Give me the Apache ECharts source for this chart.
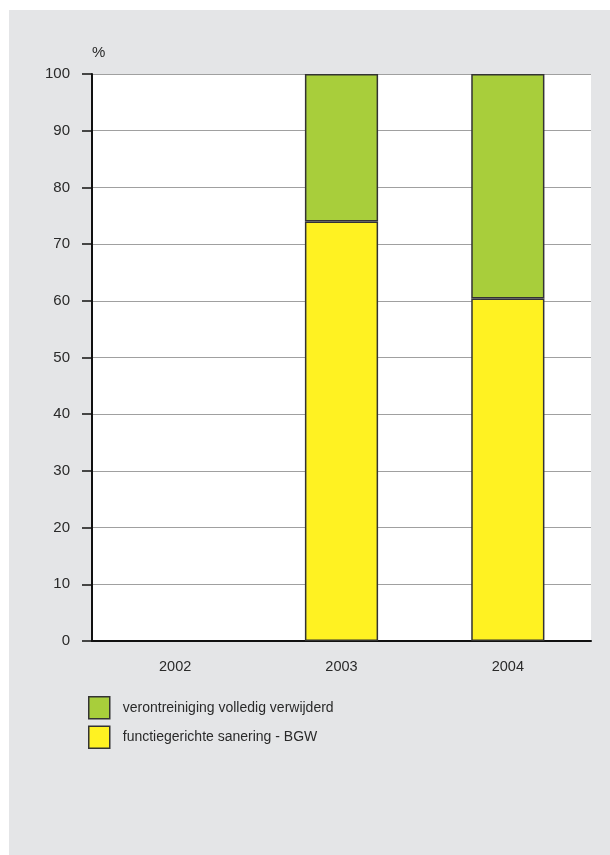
<!DOCTYPE html>
<html>
<head>
<meta charset="utf-8">
<script src="https://cdn.jsdelivr.net/npm/echarts@6/dist/echarts.min.js"></script>
<style>
  html, body { margin: 0; padding: 0; background: #fff; }
  #wrap { position: relative; width: 610px; height: 855px; background: #fff; }
  #panel { position: absolute; left: 9px; top: 10px; width: 601px; height: 845px; background: #e4e5e7; }
  #myChart { width: 100%; height: 100%; }
</style>
</head>
<body>
<div id="wrap"><div id="panel"><div id="myChart"></div></div></div>
<script>
// jaren en aandelen (%)
const years = ['2002', '2003', '2004'];
const bgwShare = [null, 74, 60.4];        // functiegerichte sanering - BGW
const removedShare = [null, 26, 39.6];    // verontreiniging volledig verwijderd
const yTicks = { min: 0, max: 100, interval: 10 };

const font = '"Liberation Sans", Arial, sans-serif';
const chart = echarts.init(document.getElementById('myChart'));

const option = {
  animation: false,
  textStyle: { fontFamily: font },
  grid: {
    left: 83,
    top: 64,
    width: 499,
    height: 567,
    show: true,
    backgroundColor: '#fff',
    borderWidth: 0,
  },
  legend: {
    orient: 'vertical',
    left: 79,
    top: 686,
    padding: 0,
    itemWidth: 21,
    itemHeight: 22,
    itemGap: 6,
    icon: 'rect',
    data: ['verontreiniging volledig verwijderd', 'functiegerichte sanering - BGW'],
    textStyle: { fontSize: 14, color: '#2a2a2a', fontFamily: font, padding: [0, 0, 0, 8] },
    itemStyle: { borderColor: '#333', borderWidth: 1.5 },
  },
  xAxis: {
    type: 'category',
    data: years,
    axisLine: { lineStyle: { color: '#111', width: 2 } },
    axisTick: { length: 12, lineStyle: { color: '#111', width: 1.5 } },
    axisLabel: { fontSize: 14.5, color: '#2a2a2a', margin: 18 },
  },
  yAxis: {
    type: 'value',
    min: yTicks.min,
    max: yTicks.max,
    interval: yTicks.interval,
    name: '%',
    nameLocation: 'end',
    nameGap: 14,
    nameTextStyle: { fontSize: 15, color: '#2a2a2a', align: 'left' },
    axisLine: { show: true, lineStyle: { color: '#111', width: 2 } },
    axisTick: { show: true, length: 10, lineStyle: { color: '#111', width: 1.5 } },
    axisLabel: { fontSize: 15, color: '#2a2a2a', margin: 22 },
    splitLine: { lineStyle: { color: '#a0a0a0', width: 1 } },
  },
  series: [
    {
      name: 'functiegerichte sanering - BGW',
      type: 'bar',
      stack: 'total',
      barWidth: '44%',
      data: bgwShare,
      itemStyle: { color: '#fff222', borderColor: '#333', borderWidth: 1.5 },
    },
    {
      name: 'verontreiniging volledig verwijderd',
      type: 'bar',
      stack: 'total',
      barWidth: '44%',
      data: removedShare,
      itemStyle: { color: '#a8ce3b', borderColor: '#333', borderWidth: 1.5 },
    },
  ],
};

chart.setOption(option);
</script>
</body>
</html>
